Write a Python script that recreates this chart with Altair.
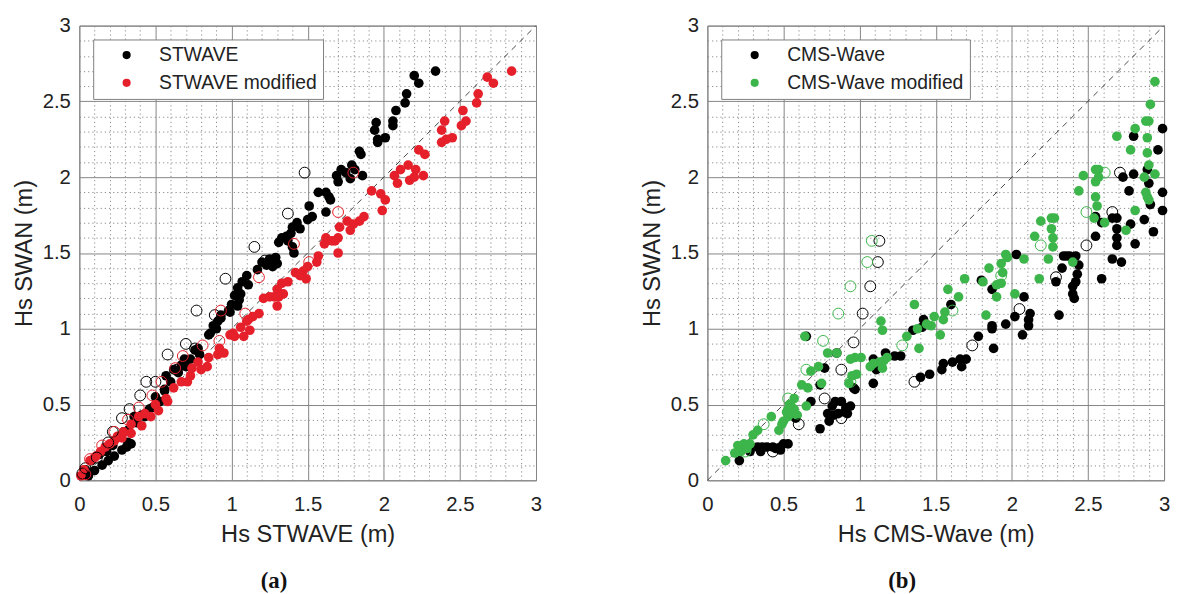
import altair as alt
import pandas as pd

# ---------------- Panel (a) : SWAN vs STWAVE ----------------
a_black_x = [2.34, 2.20, 2.23, 2.15, 2.14, 2.08, 2.06, 2.06, 1.95, 1.94, 2.01, 1.96, 1.96, 1.84, 1.85, 1.86,
             1.79, 1.75, 1.69, 1.70, 1.78, 1.81, 1.72,
             1.62, 1.57, 1.64, 1.65, 1.62, 1.51, 1.53, 1.50, 1.43, 1.45, 1.40, 1.39, 1.33, 1.31, 1.37, 1.41, 1.40, 1.36,
             1.25, 1.27, 1.23, 1.20, 1.17, 1.29, 1.30,
             1.10, 1.07, 1.11, 1.04, 1.02, 1.05, 1.00, 0.98, 0.93, 0.91, 0.99, 1.04, 1.06, 0.93, 0.88, 0.86, 0.90, 0.85,
             0.79, 0.78, 0.73, 0.76, 0.70, 0.69, 0.65, 0.67, 0.60, 0.62, 0.56, 0.57, 0.53, 0.56, 0.48, 0.50, 0.43, 0.46,
             0.38, 0.41, 0.32, 0.36, 0.29,
             0.34, 0.31, 0.28, 0.32, 0.23, 0.22, 0.19, 0.18, 0.15, 0.13, 0.10, 0.08, 0.06, 0.04]
a_black_y = [2.70, 2.67, 2.62, 2.55, 2.49, 2.44, 2.37, 2.34, 2.36, 2.31, 2.26, 2.25, 2.23, 2.17, 2.15, 2.01,
             2.08, 2.03, 2.01, 1.97, 1.99, 2.05, 2.05,
             1.90, 1.90, 1.87, 1.85, 1.77, 1.81, 1.74, 1.72, 1.70, 1.66, 1.67, 1.63, 1.60, 1.57, 1.58, 1.50, 1.54, 1.61,
             1.46, 1.41, 1.42, 1.44, 1.39, 1.47, 1.43,
             1.35, 1.31, 1.29, 1.27, 1.22, 1.19, 1.16, 1.12, 1.09, 1.05, 1.11, 1.15, 1.23, 1.07, 1.02, 0.97, 1.00, 0.96,
             0.83, 0.87, 0.80, 0.86, 0.75, 0.80, 0.71, 0.76, 0.65, 0.73, 0.59, 0.69, 0.52, 0.60, 0.48, 0.55, 0.42, 0.47,
             0.38, 0.43, 0.33, 0.42, 0.32,
             0.24, 0.22, 0.20, 0.25, 0.16, 0.23, 0.13, 0.19, 0.10, 0.17, 0.065, 0.13, 0.03, 0.07]

a_black_open_x = [1.48, 1.37, 1.15, 1.22, 0.96, 0.77, 0.89, 0.70, 0.76, 0.58, 0.64, 0.44, 0.50, 0.40, 0.33, 0.28,
                  0.22, 0.19, 0.115, 0.04, 0.02]
a_black_open_y = [2.03, 1.76, 1.54, 1.45, 1.33, 1.12, 1.09, 0.90, 0.87, 0.83, 0.73, 0.65, 0.65, 0.56, 0.47, 0.41,
                  0.32, 0.25, 0.15, 0.08, 0.045]

a_red_x = [2.84, 2.68, 2.72, 2.62, 2.61, 2.52, 2.54, 2.51, 2.40, 2.38, 2.45, 2.41, 2.38, 2.23, 2.27, 2.16, 2.11,
           2.21, 2.07, 2.09, 2.17, 2.20, 2.26,
           1.92, 1.98, 2.01, 1.99, 1.87, 1.84, 1.80, 1.78, 1.76, 1.71, 1.70, 1.68, 1.70, 1.62, 1.61, 1.66, 1.57, 1.56,
           1.50, 1.47, 1.45, 1.49, 1.42, 1.37, 1.33, 1.30, 1.34, 1.28, 1.31, 1.25, 1.30, 1.21, 1.18, 1.14, 1.11, 1.06,
           1.10,
           1.12, 1.08, 1.02, 1.01, 0.99, 0.95, 0.91, 0.92, 0.84, 0.80, 0.85, 0.78, 0.73, 0.71, 0.74, 0.67, 0.62, 0.58,
           0.57, 0.52, 0.50, 0.47, 0.43, 0.41, 0.39, 0.34, 0.34, 0.28, 0.29, 0.23, 0.25, 0.17, 0.20, 0.14, 0.10, 0.11,
           0.07, 0.03, 0.01]
a_red_y = [2.70, 2.66, 2.62, 2.55, 2.49, 2.44, 2.37, 2.34, 2.37, 2.31, 2.26, 2.25, 2.23, 2.18, 2.15, 2.08, 2.05,
           2.05, 2.01, 1.96, 1.98, 2.00, 2.01,
           1.91, 1.89, 1.85, 1.78, 1.74, 1.71, 1.69, 1.65, 1.71, 1.67, 1.60, 1.58, 1.50, 1.60, 1.56, 1.58, 1.48, 1.44,
           1.41, 1.38, 1.35, 1.33, 1.37, 1.31, 1.30, 1.26, 1.23, 1.21, 1.21, 1.21, 1.15, 1.20, 1.10, 1.08, 1.06, 1.01,
           1.05,
           0.99, 0.95, 0.95, 0.97, 0.96, 0.84, 0.83, 0.87, 0.75, 0.73, 0.81, 0.78, 0.69, 0.65, 0.74, 0.65, 0.61, 0.52,
           0.54, 0.46, 0.50, 0.42, 0.44, 0.36, 0.42, 0.31, 0.37, 0.28, 0.32, 0.26, 0.29, 0.22, 0.24, 0.19, 0.15, 0.16,
           0.13, 0.07, 0.03]

a_red_open_x = [1.80, 1.70, 1.41, 1.51, 1.18, 1.09, 0.93, 0.92, 0.81, 0.68, 0.63, 0.54, 0.48, 0.39, 0.32, 0.23,
                0.15, 0.07, 0.04]
a_red_open_y = [2.03, 1.77, 1.56, 1.44, 1.34, 1.10, 1.12, 0.92, 0.89, 0.82, 0.74, 0.65, 0.56, 0.48, 0.40, 0.32,
                0.23, 0.14, 0.04]

# ---------------- Panel (b) : SWAN vs CMS-Wave ----------------
b_black_x = [2.99, 2.96, 2.80, 2.80, 2.73, 2.89, 2.90, 2.77, 2.99, 2.91, 2.99, 2.87, 2.93, 2.78, 2.81, 2.69, 2.66,
             2.69, 2.69, 2.69, 2.66, 2.72, 2.55, 2.59, 2.55, 2.59,
             2.34, 2.38, 2.36, 2.42, 2.44, 2.43, 2.42, 2.40, 2.40, 2.41, 2.33, 2.29, 2.31,
             2.03, 2.08, 2.12, 2.11, 2.11, 2.02, 2.07, 1.96, 1.87, 1.87, 1.88, 1.78, 1.80, 1.87,
             1.70, 1.67, 1.66, 1.61, 1.55, 1.54, 1.46, 1.40, 1.60, 1.42, 1.35, 1.41, 1.27, 1.23, 1.17, 1.09, 1.11, 1.09,
             0.97, 0.96, 0.94, 0.91, 0.88, 0.84, 0.82, 0.79, 0.80, 0.83, 0.90, 0.86, 0.92, 0.74, 0.68, 0.74, 0.77, 0.85,
             0.65, 0.58,
             0.53, 0.50, 0.48, 0.45, 0.43, 0.39, 0.36, 0.33, 0.28, 0.35, 0.28, 0.21, 0.48]
b_black_y = [2.32, 2.18, 2.27, 2.02, 2.00, 2.05, 1.96, 1.91, 1.90, 1.82, 1.78, 1.72, 1.64, 1.69, 1.56, 1.73, 1.73,
             1.66, 1.60, 1.55, 1.46, 1.44, 1.74, 1.70, 1.61, 1.33,
             1.48, 1.48, 1.48, 1.48, 1.42, 1.36, 1.31, 1.28, 1.23, 1.20, 1.40, 1.31, 1.09,
             1.49, 1.21, 1.10, 1.06, 1.02, 1.08, 0.96, 1.03, 1.02, 1.00, 0.87, 0.95, 1.32, 1.26,
             0.80, 0.75, 0.80, 0.78, 0.77, 0.73, 0.70, 0.68, 1.16, 1.06, 0.99, 1.01, 0.82, 0.82, 0.84, 0.80, 0.73, 0.64,
             0.60, 0.61, 0.49, 0.48, 0.52, 0.52, 0.49, 0.44, 0.39, 0.43, 0.45, 0.44, 0.44, 0.34, 0.52, 0.63, 0.74, 0.84,
             0.95, 0.41,
             0.24, 0.24, 0.22, 0.21, 0.22, 0.22, 0.22, 0.22, 0.22, 0.19, 0.19, 0.13, 0.20]

b_black_open_x = [2.71, 2.66, 2.49, 2.29, 2.05, 1.74, 1.36, 1.13, 1.12, 1.07, 1.02, 0.96, 0.88, 0.77, 0.60, 0.43, 0.88]
b_black_open_y = [2.03, 1.77, 1.55, 1.34, 1.13, 0.89, 0.65, 1.58, 1.44, 1.28, 1.10, 0.91, 0.73, 0.54, 0.37, 0.19, 0.41]

b_green_x = [2.94, 2.91, 2.90, 2.88, 2.81, 2.89, 2.78, 2.89, 2.90, 2.87, 2.94, 2.88, 2.89, 2.90, 2.81, 2.75, 2.69,
             2.61, 2.54, 2.55, 2.57, 2.55, 2.57, 2.55, 2.56, 2.47, 2.44, 2.40,
             2.26, 2.28, 2.26, 2.27, 2.27, 2.24, 2.19, 2.15, 2.18, 2.08, 2.02, 1.96, 1.97, 1.93, 1.94, 1.93, 1.90, 1.90,
             1.85, 1.81, 1.83,
             1.69, 1.65, 1.58, 1.56, 1.55, 1.53, 1.49, 1.47, 1.44, 1.36, 1.39, 1.38, 1.31,
             1.14, 1.15, 1.18, 1.16, 1.13, 1.09, 1.07, 1.15, 1.01, 0.97, 0.94, 0.98, 0.95, 0.93, 0.85, 0.79, 0.73, 0.64,
             0.68, 0.66, 0.62, 0.75, 0.65,
             0.57, 0.55, 0.53, 0.55, 0.53, 0.50, 0.49, 0.57, 0.59, 0.52, 0.54, 0.47, 0.42, 0.33, 0.30, 0.28, 0.24, 0.20,
             0.22, 0.18, 0.26, 0.12]
b_green_y = [2.63, 2.48, 2.37, 2.37, 2.32, 2.26, 2.18, 2.16, 2.08, 2.00, 2.02, 1.90, 1.87, 1.85, 1.78, 1.65, 2.27,
             1.70, 1.73, 2.05, 2.05, 1.97, 2.00, 1.87, 1.81, 2.01, 1.91, 1.44,
             1.73, 1.73, 1.66, 1.60, 1.54, 1.46, 1.71, 1.61, 1.33, 1.46, 1.23, 1.49, 1.47, 1.43, 1.37, 1.30, 1.21, 1.29,
             1.40, 1.31, 1.09,
             1.33, 1.21, 1.26, 1.11, 1.06, 0.96, 1.08, 1.02, 1.03, 1.16, 0.87, 1.00, 0.95,
             1.05, 0.99, 0.81, 0.79, 0.78, 0.77, 0.75, 0.74, 0.81, 0.81, 0.80, 0.70, 0.69, 0.64, 0.84, 0.84, 0.75, 0.95,
             0.72, 0.61, 0.63, 0.64, 0.49,
             0.54, 0.49, 0.47, 0.44, 0.42, 0.39, 0.37, 0.47, 0.43, 0.45, 0.50, 0.33, 0.42, 0.33, 0.30, 0.24, 0.24, 0.23,
             0.19, 0.18, 0.21, 0.13]

b_green_open_x = [2.61, 2.49, 2.19, 1.93, 1.61, 1.28, 1.08, 1.05, 0.94, 0.86, 0.76, 0.65, 0.94, 0.53, 0.37, 0.25]
b_green_open_y = [2.03, 1.77, 1.55, 1.35, 1.12, 0.89, 1.58, 1.44, 1.28, 1.10, 0.92, 0.73, 0.65, 0.54, 0.37, 0.19]

# axis ticks / reference line
minor_ticks = [0, 0.1, 0.2, 0.3, 0.4, 0.5, 0.6, 0.7, 0.8, 0.9, 1, 1.1, 1.2, 1.3, 1.4, 1.5, 1.6, 1.7, 1.8, 1.9,
               2, 2.1, 2.2, 2.3, 2.4, 2.5, 2.6, 2.7, 2.8, 2.9, 3]
major_ticks = [0, 0.5, 1, 1.5, 2, 2.5, 3]
diag_vals = [0, 3]

FONT = "Liberation Sans"
is_major = "indexof([" + ",".join(str(v) for v in major_ticks) + "], datum.value) >= 0"


def make_axis(title, label_pad):
    return alt.Axis(
        title=title,
        values=minor_ticks,
        tickCount=100,
        labelExpr=f"{is_major} ? format(datum.value, '~g') : ''",
        labelOverlap=False,
        labelFlush=False,
        grid=True,
        gridDash={"condition": {"test": is_major, "value": []}, "value": [1.2, 3]},
        gridColor={"condition": {"test": is_major, "value": "#858585"}, "value": "#8a8a8a"},
        gridWidth=1,
        domain=False,
        ticks=False,
        labelFont=FONT,
        labelFontSize=20.5,
        labelColor="#222222",
        labelPadding=label_pad,
        titleFont=FONT,
        titleFontSize=23.8,
        titleFontWeight="normal",
        titleColor="#222222",
    )


def panel(series, colors, fx, fy, ox, oy, xtitle, caption):
    parts = [pd.DataFrame({"x": xs, "y": ys, "series": s}) for s, xs, ys in zip(series, fx, fy)]
    fdf = pd.concat(parts, ignore_index=True)
    oparts = [pd.DataFrame({"x": xs, "y": ys, "series": s}) for s, xs, ys in zip(series, ox, oy)]
    odf = pd.concat(oparts, ignore_index=True)
    ddf = pd.DataFrame({"x": diag_vals, "y": diag_vals})

    sx = alt.Scale(domain=[0, 3], nice=False, zero=False)
    sy = alt.Scale(domain=[0, 3], nice=False, zero=False)
    xenc = alt.X("x:Q", scale=sx, axis=make_axis(xtitle, 14))
    yenc = alt.Y("y:Q", scale=sy, axis=make_axis("Hs SWAN (m)", 9))

    diag = alt.Chart(ddf).mark_line(color="#333333", strokeWidth=0.9, strokeDash=[6, 5]).encode(
        x=xenc, y=yenc)

    filled = alt.Chart(fdf).mark_circle(size=95, opacity=1).encode(
        x=xenc,
        y=yenc,
        color=alt.Color(
            "series:N",
            scale=alt.Scale(domain=series, range=colors),
            sort=series,
            legend=alt.Legend(
                title=None,
                orient="none",
                legendX=14,
                legendY=14,
                direction="vertical",
                symbolType="circle",
                symbolSize=45,
                symbolOffset=18,
                labelOffset=23,
                labelFont=FONT,
                labelFontSize=19.5,
                labelColor="#222222",
                rowPadding=7,
                padding=6,
                strokeColor="#808080",
                fillColor="white",
                labelLimit=400,
            ),
        ),
    )

    opened = alt.Chart(odf).mark_point(shape="circle", filled=False, size=120, strokeWidth=1, opacity=1).encode(
        x=xenc,
        y=yenc,
        stroke=alt.Stroke("series:N", scale=alt.Scale(domain=series, range=colors), legend=None),
    )

    return alt.layer(diag, filled, opened).properties(
        width=461,
        height=459,
        title=alt.TitleParams(
            caption,
            orient="bottom",
            anchor="middle",
            font="Liberation Serif",
            fontSize=23,
            fontWeight="bold",
            color="#111111",
            offset=24,
            dx=-34,
        ),
    )


left = panel(["STWAVE", "STWAVE modified"], ["#000000", "#e5202a"],
             [a_black_x, a_red_x], [a_black_y, a_red_y],
             [a_black_open_x, a_red_open_x], [a_black_open_y, a_red_open_y],
             "Hs STWAVE (m)", "(a)")
right = panel(["CMS-Wave", "CMS-Wave modified"], ["#000000", "#3cb54a"],
              [b_black_x, b_green_x], [b_black_y, b_green_y],
              [b_black_open_x, b_green_open_x], [b_black_open_y, b_green_open_y],
              "Hs CMS-Wave (m)", "(b)")

chart = alt.hconcat(left, right, spacing=98).resolve_scale(color="independent", stroke="independent").properties(
    padding={"left": 4, "top": 4, "right": 0, "bottom": 0}
).configure_view(stroke="#7f7f7f", strokeWidth=1).configure_axisY(titlePadding=6).configure_axisX(titlePadding=8)

chart.save("out.html", embed_options={"renderer": "svg", "actions": False})
